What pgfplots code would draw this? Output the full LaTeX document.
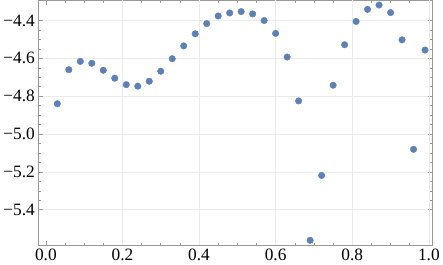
\documentclass[border=0pt]{standalone}
\usepackage{fontspec}
\setmainfont{Liberation Serif}
\usepackage{pgfplots}
\pgfplotsset{compat=1.18}
\definecolor{mmablue}{rgb}{0.368417,0.506779,0.709798}
\definecolor{framegray}{gray}{0.6}
\definecolor{gridgray}{gray}{0.92}
\begin{document}
\begin{tikzpicture}
\begin{axis}[
  scale only axis,
  width=398pt, height=247pt,
  xmin=-0.0198, xmax=1.0098,
  ymin=-5.587, ymax=-4.293,
  axis line style={framegray, line width=0.6pt},
  tick style={framegray, line width=0.5pt},
  tick align=inside,
  major tick length=4.5pt,
  minor tick length=2.5pt,
  xtick={0,0.2,0.4,0.6,0.8,1.0},
  xticklabels={\textrm{0.0},\textrm{0.2},\textrm{0.4},\textrm{0.6},\textrm{0.8},\textrm{1.0}},
  ytick={-5.4,-5.2,-5.0,-4.8,-4.6,-4.4},
  yticklabels={\textrm{−5.4},\textrm{−5.2},\textrm{−5.0},\textrm{−4.8},\textrm{−4.6},\textrm{−4.4}},
  minor x tick num=3,
  minor y tick num=3,
  ymajorgrids,
  extra x ticks={0.2,0.4,0.6,0.8,1.0},
  extra x tick labels={},
  extra x tick style={xmajorgrids, major tick length=0pt},
  grid style={gridgray, line width=0.5pt},
  tick label style={font=\fontsize{17.5}{17.5}\selectfont\rmfamily, text=black},
  xticklabel style={yshift=-0.5pt},
]
\addplot[only marks, color=mmablue, mark=*, mark size=3.3pt] coordinates {
(0.03,-4.840) (0.06,-4.660) (0.09,-4.616) (0.12,-4.626) (0.15,-4.663)
(0.18,-4.705) (0.21,-4.739) (0.24,-4.747) (0.27,-4.721) (0.30,-4.668)
(0.33,-4.602) (0.36,-4.534) (0.39,-4.470) (0.42,-4.416) (0.45,-4.376)
(0.48,-4.360) (0.51,-4.353) (0.54,-4.365) (0.57,-4.400) (0.60,-4.468)
(0.63,-4.593) (0.66,-4.825) (0.69,-5.562) (0.72,-5.219) (0.75,-4.742)
(0.78,-4.528) (0.81,-4.405) (0.84,-4.341) (0.87,-4.318) (0.90,-4.358)
(0.93,-4.502) (0.96,-5.081) (0.99,-4.556)
};
\end{axis}
\end{tikzpicture}
\end{document}
